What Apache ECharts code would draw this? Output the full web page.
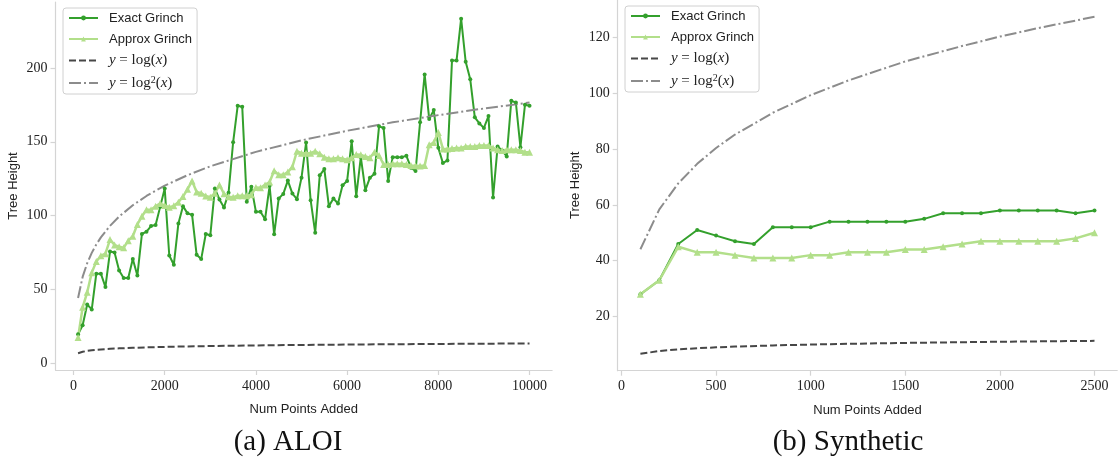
<!DOCTYPE html>
<html>
<head>
<meta charset="utf-8">
<title>Tree Height</title>
<script src="https://cdn.jsdelivr.net/npm/echarts@6/dist/echarts.min.js"></script>
<style>html,body{margin:0;background:#fff;}</style>
</head>
<body>
<div id="main" style="width:1119px;height:463px;"></div>
<script type="text/javascript">
// (a) ALOI
var aloiX = [
  100, 200, 300, 400, 500, 600, 700, 800, 900, 1000,
  1100, 1200, 1300, 1400, 1500, 1600, 1700, 1800, 1900, 2000,
  2100, 2200, 2300, 2400, 2500, 2600, 2700, 2800, 2900, 3000,
  3100, 3200, 3300, 3400, 3500, 3600, 3700, 3800, 3900, 4000,
  4100, 4200, 4300, 4400, 4500, 4600, 4700, 4800, 4900, 5000,
  5100, 5200, 5300, 5400, 5500, 5600, 5700, 5800, 5900, 6000,
  6100, 6200, 6300, 6400, 6500, 6600, 6700, 6800, 6900, 7000,
  7100, 7200, 7300, 7400, 7500, 7600, 7700, 7800, 7900, 8000,
  8100, 8200, 8300, 8400, 8500, 8600, 8700, 8800, 8900, 9000,
  9100, 9200, 9300, 9400, 9500, 9600, 9700, 9800, 9900, 10000
];
var aloiExact = [
  19.5, 25.6, 39.7, 36.4, 60.6, 60.6, 51.6, 75.6, 75.0, 62.8,
  57.7, 57.7, 70.5, 59.3, 87.5, 89.1, 92.9, 93.6, 105.9, 118.3,
  72.9, 66.7, 94.7, 106.4, 101.5, 100.5, 73.4, 70.5, 87.5, 86.7,
  118.3, 110.9, 105.5, 115.4, 149.7, 174.4, 173.7, 109.3, 119.5, 102.6,
  102.6, 97.5, 120.2, 87.3, 111.6, 114.7, 123.7, 114.9, 111.1, 125.7,
  149.5, 110.4, 88.4, 127.3, 131.5, 106.4, 111.6, 108.2, 120.5, 123.5,
  150.4, 113.1, 139.6, 117.2, 125.7, 128.4, 160.5, 159.4, 123.5, 139.6,
  139.6, 139.6, 140.5, 132.5, 130.2, 163.2, 195.7, 165.5, 171.5, 145.9,
  135.6, 137.4, 205.2, 205.2, 233.5, 204.3, 192.4, 166.6, 162.5, 159.4,
  167.5, 112.2, 146.8, 144.1, 140.1, 177.8, 176.7, 146.4, 175.1, 174.4
];
var aloiApprox = [
  17.3, 37.8, 48.0, 61.3, 68.9, 72.8, 74.2, 83.7, 80.1, 78.8,
  78.2, 83.0, 86.0, 94.0, 99.5, 104.0, 104.0, 106.4, 108.2, 106.8,
  105.7, 106.6, 109.0, 112.9, 117.8, 123.5, 116.0, 115.2, 113.3, 112.4,
  115.2, 120.8, 114.8, 112.7, 112.5, 113.5, 113.5, 113.5, 114.2, 119.0,
  118.8, 120.8, 122.8, 130.4, 127.6, 127.6, 129.5, 133.1, 143.6, 142.3,
  142.2, 142.3, 143.6, 141.9, 139.6, 138.5, 138.5, 139.2, 138.5, 137.8,
  139.2, 141.4, 141.2, 140.1, 139.2, 143.0, 140.7, 134.7, 134.7, 135.1,
  135.1, 135.1, 134.7, 134.0, 133.8, 133.6, 134.0, 148.0, 149.5, 156.4,
  145.2, 145.2, 145.5, 145.8, 145.8, 146.8, 146.8, 146.8, 147.5, 147.5,
  147.5, 145.8, 144.6, 144.1, 144.6, 144.6, 144.6, 144.1, 143.0, 143.0
];
var aloiCurveX = [100, 200, 300, 400, 500, 600, 800, 1000, 1300, 1600, 2000, 2500, 3000, 4000, 5000, 6000, 7000, 8000, 9000, 10000];
var aloiLog = [6.64, 7.64, 8.23, 8.64, 8.97, 9.23, 9.64, 9.97, 10.34, 10.64, 10.97, 11.29, 11.55, 11.97, 12.29, 12.55, 12.77, 12.97, 13.14, 13.29];
var aloiLog2 = [44.1, 58.4, 67.7, 74.7, 80.4, 85.2, 93.0, 99.3, 107.0, 113.3, 120.3, 127.4, 133.4, 143.2, 151.0, 157.5, 163.2, 168.1, 172.6, 176.6];
var aloiTicksX = [0, 2000, 4000, 6000, 8000, 10000];
var aloiTicksY = [0, 50, 100, 150, 200];

// (b) Synthetic
var synX = [100, 200, 300, 400, 500, 600, 700, 800, 900, 1000, 1100, 1200, 1300, 1400, 1500, 1600, 1700, 1800, 1900, 2000, 2100, 2200, 2300, 2400, 2500];
var synExact = [28, 33, 46, 51, 49, 47, 46, 52, 52, 52, 54, 54, 54, 54, 54, 55, 57, 57, 57, 58, 58, 58, 58, 57, 58];
var synApprox = [28, 33, 45, 43, 43, 42, 41, 41, 41, 42, 42, 43, 43, 43, 44, 44, 45, 46, 47, 47, 47, 47, 47, 48, 50];
var synCurveX = [100, 200, 300, 400, 500, 600, 800, 1000, 1200, 1500, 1800, 2000, 2200, 2500];
var synLog = [6.64, 7.64, 8.23, 8.64, 8.97, 9.23, 9.64, 9.97, 10.23, 10.55, 10.81, 10.97, 11.10, 11.29];
var synLog2 = [44.1, 58.4, 67.7, 74.7, 80.4, 85.2, 93.0, 99.3, 104.6, 111.4, 116.9, 120.3, 123.3, 127.4];
var synTicksX = [0, 500, 1000, 1500, 2000, 2500];
var synTicksY = [20, 40, 60, 80, 100, 120];

var NAMES = ['Exact Grinch', 'Approx Grinch', 'y = log(x)', 'y = log2(x)'];
var GREEN = '#33a02c', LIGHT = '#b2df8a', DARK = '#474747', GREY = '#8c8c8c';
var SERIF = 'Liberation Serif', SANS = 'Liberation Sans';

function pairs(xs, ys) {
  return xs.map(function (x, i) { return [x, ys[i]]; });
}

function plain(v) { return String(v); }

function xAxis(idx, min, max, ticks) {
  return {
    type: 'value', gridIndex: idx, min: min, max: max,
    name: 'Num Points Added', nameLocation: 'middle', nameGap: 33,
    nameTextStyle: { fontFamily: SANS, fontSize: 13, color: '#222' },
    axisLine: { onZero: false, lineStyle: { color: '#d4d4d4', width: 1.2 } },
    axisTick: { customValues: ticks, length: 5, lineStyle: { color: '#d4d4d4', width: 1.2 } },
    axisLabel: { customValues: ticks, formatter: plain, margin: 9, fontFamily: SERIF, fontSize: 14, color: '#222' },
    splitLine: { show: false }
  };
}

function yAxis(idx, min, max, ticks) {
  return {
    type: 'value', gridIndex: idx, min: min, max: max,
    name: 'Tree Height', nameLocation: 'middle', nameGap: 36,
    nameTextStyle: { fontFamily: SANS, fontSize: 13, color: '#222' },
    axisLine: { show: true, onZero: false, lineStyle: { color: '#d4d4d4', width: 1.2 } },
    axisTick: { show: true, customValues: ticks, length: 5, lineStyle: { color: '#d4d4d4', width: 1.2 } },
    axisLabel: { customValues: ticks, formatter: plain, margin: 8, fontFamily: SERIF, fontSize: 14, color: '#222' },
    splitLine: { show: false }
  };
}

function legend(left, top) {
  var hidden = { opacity: 0 };
  return {
    left: left, top: top, orient: 'vertical',
    data: [
      { name: NAMES[0] },
      { name: NAMES[1] },
      { name: NAMES[2], itemStyle: hidden },
      { name: NAMES[3], itemStyle: hidden }
    ],
    itemWidth: 29, itemHeight: 6, itemGap: 7,
    padding: [3, 5, 3, 5],
    borderColor: '#d0d0d0', borderWidth: 1, borderRadius: 3, backgroundColor: '#fff',
    selectedMode: false,
    textStyle: {
      fontFamily: SANS, fontSize: 13, lineHeight: 14, color: '#222', padding: [0, 0, 0, 6],
      rich: {
        m: { fontFamily: SERIF, fontSize: 15, lineHeight: 14, color: '#222' },
        i: { fontFamily: SERIF, fontSize: 15, lineHeight: 14, fontStyle: 'italic', color: '#222' },
        s: { fontFamily: SERIF, fontSize: 10, lineHeight: 14, color: '#222', padding: [0, 0, 6, 0] }
      }
    },
    formatter: function (name) {
      if (name === NAMES[2]) return '{i|y} {m|= log(}{i|x}{m|)}';
      if (name === NAMES[3]) return '{i|y} {m|= log}{s|2}{m|(}{i|x}{m|)}';
      return name;
    }
  };
}

function group(idx, xs, exact, approx, cx, lg, lg2) {
  return [
    { name: NAMES[0], type: 'line', xAxisIndex: idx, yAxisIndex: idx, data: pairs(xs, exact),
      symbol: 'circle', symbolSize: 4, color: GREEN,
      lineStyle: { width: 2, color: GREEN }, itemStyle: { color: GREEN } },
    { name: NAMES[1], type: 'line', xAxisIndex: idx, yAxisIndex: idx, data: pairs(xs, approx),
      symbol: 'triangle', symbolSize: 7, color: LIGHT,
      lineStyle: { width: 2.5, color: LIGHT }, itemStyle: { color: LIGHT } },
    { name: NAMES[2], type: 'line', xAxisIndex: idx, yAxisIndex: idx, data: pairs(cx, lg),
      symbol: 'none', color: DARK,
      lineStyle: { width: 2, color: DARK, type: [7, 3] } },
    { name: NAMES[3], type: 'line', xAxisIndex: idx, yAxisIndex: idx, data: pairs(cx, lg2),
      symbol: 'none', color: GREY,
      lineStyle: { width: 2, color: GREY, type: [12, 3, 2, 3] } }
  ];
}

var myChart = echarts.init(document.getElementById('main'), null, { renderer: 'canvas' });
var option = {
  backgroundColor: '#fff',
  animation: false,
  title: [
    { text: '(a) ALOI', left: 283, top: 423, textAlign: 'center',
      textStyle: { fontFamily: SERIF, fontSize: 29, fontWeight: 'normal', color: '#111' } },
    { text: '(b) Synthetic', left: 843, top: 423, textAlign: 'center',
      textStyle: { fontFamily: SERIF, fontSize: 29, fontWeight: 'normal', color: '#111' } }
  ],
  legend: [legend(63, 8), legend(625, 6)],
  grid: [
    { left: 55.5, top: 2, width: 496.6, height: 368 },
    { left: 617.7, top: -1, width: 499.5, height: 371.7 }
  ],
  xAxis: [xAxis(0, -395, 10495, aloiTicksX), xAxis(1, -20, 2620, synTicksX)],
  yAxis: [yAxis(0, -4.7, 244.8, aloiTicksY), yAxis(1, 0.6, 133.4, synTicksY)],
  series: group(0, aloiX, aloiExact, aloiApprox, aloiCurveX, aloiLog, aloiLog2)
    .concat(group(1, synX, synExact, synApprox, synCurveX, synLog, synLog2))
};
myChart.setOption(option);
</script>
</body>
</html>
